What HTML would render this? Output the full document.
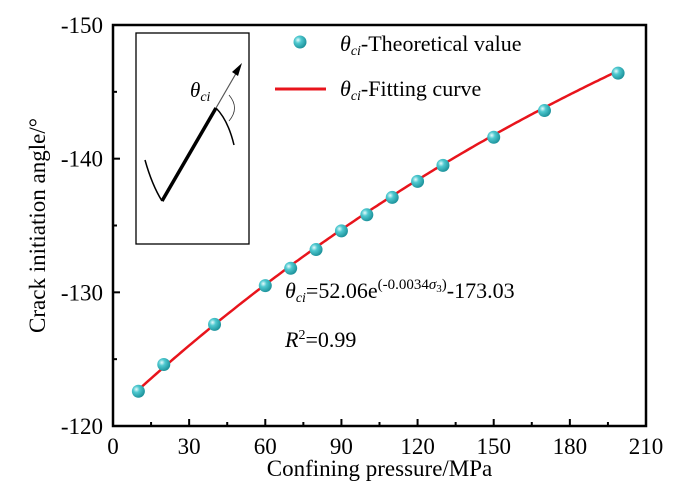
<!DOCTYPE html>
<html><head><meta charset="utf-8"><style>
body{margin:0;background:#fff}
svg{display:block;font-family:"Liberation Serif",serif}
text{font-family:"Liberation Serif",serif}
</style></head><body>
<svg id="chart" width="673" height="494" viewBox="0 0 673 494">
<defs>
<radialGradient id="ball" cx="0.35" cy="0.35" r="0.7">
<stop offset="0" stop-color="#e8fbfc"/><stop offset="0.35" stop-color="#4fc9d0"/><stop offset="1" stop-color="#1a8f98"/>
</radialGradient>
</defs>
<g id="axes"></g>
<g id="inset">
<rect x="136" y="33" width="113" height="211" fill="#fff" stroke="#000" stroke-width="1.3"/>
<path d="M145,160 Q152,185 162,201" fill="none" stroke="#000" stroke-width="1.5"/>
<path d="M162,201 L216,108" fill="none" stroke="#000" stroke-width="3.5"/>
<path d="M216,108 Q228,120 234,145" fill="none" stroke="#000" stroke-width="1.5"/>
<path d="M216,108 L238,70" stroke="#555" stroke-width="1.2"/>
<polygon points="242,63 232,72 238,76" fill="#000"/>
<path d="M229,95 Q240,108 229,121" fill="none" stroke="#333" stroke-width="0.8"/>
<text x="190" y="97" font-size="21" font-style="italic">θ<tspan font-size="14" dy="4">ci</tspan></text>
</g>
<g id="legend">
<circle cx="300" cy="42" r="6.5" fill="url(#ball)"/>
<text x="340" y="51" font-size="22"><tspan font-style="italic">θ<tspan font-size="14" dy="4">ci</tspan></tspan><tspan dy="-4">-Theoretical value</tspan></text>
<line x1="275" y1="89" x2="326" y2="89" stroke="#e8141c" stroke-width="3"/>
<text x="340" y="96" font-size="22"><tspan font-style="italic">θ<tspan font-size="14" dy="4">ci</tspan></tspan><tspan dy="-4">-Fitting curve</tspan></text>
</g>
<text x="285" y="298" font-size="22"><tspan font-style="italic">θ<tspan font-size="14" dy="4">ci</tspan></tspan><tspan dy="-4">=52.06e</tspan><tspan font-size="15" dy="-9">(-0.0034<tspan font-style="italic">σ</tspan><tspan font-size="11" dy="3">3</tspan><tspan dy="-3">)</tspan></tspan><tspan dy="9">-173.03</tspan></text>
<text x="285" y="347" font-size="22"><tspan font-style="italic">R</tspan><tspan font-size="14" dy="-8">2</tspan><tspan dy="8">=0.99</tspan></text>
</svg>
<script>
const xValues=[10,20,40,60,70,80,90,100,110,120,130,150,170,199];
const yValues=[-122.6,-124.6,-127.6,-130.5,-131.8,-133.2,-134.6,-135.8,-137.1,-138.3,-139.5,-141.6,-143.6,-146.4];
const fitCoeffs=[52.06,-0.0034,-173.03];
const xTicks=[0,30,60,90,120,150,180,210];
const yTicks=[-150,-140,-130,-120];
const L=113,R=646,T=25,B=426;
const NS="http://www.w3.org/2000/svg";
const sx=v=>L+(v-0)/(210-0)*(R-L);
const sy=v=>T+(v-(-150))/(-120-(-150))*(B-T);
const ax=document.getElementById('axes');
function mk(tag,attrs,parent){const e=document.createElementNS(NS,tag);for(const k in attrs)e.setAttribute(k,attrs[k]);(parent||ax).appendChild(e);return e;}
const frame=mk('rect',{x:L,y:T,width:R-L,height:B-T,fill:'none',stroke:'#000','stroke-width':2.5});


xTicks.forEach((v,i)=>{
 const x=sx(v);
 const t=mk('line',{x1:x,y1:B,x2:x,y2:B-7,stroke:'#000','stroke-width':2});
 
 
 if(i<xTicks.length-1){mk('line',{x1:sx(v+15),y1:B,x2:sx(v+15),y2:B-4,stroke:'#000','stroke-width':2});}
 const l=mk('text',{x:x,y:B+28,'font-size':23,'text-anchor':'middle'});
 l.textContent=v;
 
 
});
yTicks.forEach((v,i)=>{
 const y=sy(v);
 const t=mk('line',{x1:L,y1:y,x2:L+7,y2:y,stroke:'#000','stroke-width':2});
 
 
 if(i<yTicks.length-1){mk('line',{x1:L,y1:sy(v+5),x2:L+4,y2:sy(v+5),stroke:'#000','stroke-width':2});}
 const l=mk('text',{x:L-10,y:y+8,'font-size':23,'text-anchor':'end'});
 l.textContent=v;
 
 
});
const xt=mk('text',{x:(L+R)/2,y:476,'font-size':23,'text-anchor':'middle'});
xt.textContent='Confining pressure/MPa';


const yt=mk('text',{x:0,y:0,'font-size':23,'text-anchor':'middle',transform:`translate(45,${(T+B)/2}) rotate(-90)`});
yt.textContent='Crack initiation angle/°';


let d='';
for(let v=xValues[0];v<=xValues[xValues.length-1];v+=1){
 const y=fitCoeffs[0]*Math.exp(fitCoeffs[1]*v)+fitCoeffs[2];
 d+=(d?'L':'M')+sx(v).toFixed(1)+','+sy(y).toFixed(1);
}
const fl=mk('path',{d:d,fill:'none',stroke:'#e8141c','stroke-width':2.5});


xValues.forEach((v,i)=>{
 const c=mk('circle',{cx:sx(v),cy:sy(yValues[i]),r:6.5,fill:'url(#ball)'});
 
 
});
</script>
</body></html>
